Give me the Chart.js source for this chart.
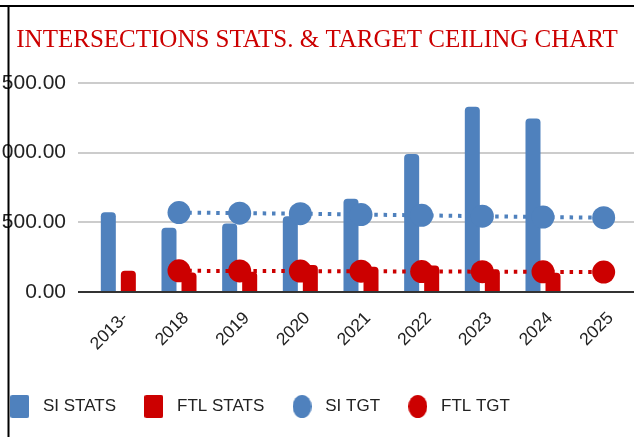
<!DOCTYPE html>
<html lang="en">
<head>
<meta charset="UTF-8">
<title>Intersections Stats & Target Ceiling Chart</title>
<script src="https://cdn.jsdelivr.net/npm/chart.js@4.4.1/dist/chart.umd.min.js"></script>
<style>
    body { margin: 0; background: #fff; }
    #chart { display: block; }
</style>
</head>
<body>
<canvas id="chart" width="634" height="437"></canvas>
<script>
// data
const years = ['2013-', '2018', '2019', '2020', '2021', '2022', '2023', '2024', '2025'];
const siStats = [573, 462, 491, 543, 669, 990, 1329, 1245, null];
const ftlStats = [152, 140, 145, 193, 181, 190, 164, 138, null];
const siTarget = [null, 570, 566, 562, 556, 550, 544, 538, 533];
const ftlTarget = [null, 152, 151, 150, 149, 147, 146, 145, 143];

const BLUE = '#4f81bd';
const RED = '#cc0000';
const SANS = "'Liberation Sans', Arial, sans-serif";

// legend icons (square for bars, ellipse for targets)
function makeIcon(shape, color) {
    const c = document.createElement('canvas');
    c.width = 19;
    c.height = 23;
    const g = c.getContext('2d');
    g.fillStyle = color;
    g.beginPath();
    if (shape === 'rect') {
        g.roundRect(0, 0, 19, 23, 2);
    } else {
        g.ellipse(9.5, 11.5, 9.5, 11.5, 0, 0, Math.PI * 2);
    }
    g.fill();
    return c;
}
const legendIcons = [makeIcon('rect', BLUE), makeIcon('rect', RED), makeIcon('circle', BLUE), makeIcon('circle', RED)];

// black frame lines at the top and left edge
const frame = {
    id: 'frame',
    afterDraw(chart) {
        const ctx = chart.ctx;
        ctx.save();
        ctx.fillStyle = '#000';
        ctx.fillRect(0, 5, chart.width, 2);
        ctx.fillRect(7.5, 5, 2, chart.height);
        ctx.restore();
    }
};

new Chart(document.getElementById('chart'), {
    type: 'bar',
    data: {
        labels: years,
        datasets: [
            { label: 'SI STATS', data: siStats, backgroundColor: BLUE, borderRadius: 4, order: 1 },
            { label: 'FTL STATS', data: ftlStats, backgroundColor: RED, borderRadius: 4, order: 1 },
            {
                type: 'line', label: 'SI TGT', data: siTarget, order: 0,
                borderColor: BLUE, backgroundColor: BLUE, borderWidth: 4, borderDash: [3.5, 5.8],
                pointRadius: 11.5, pointBorderWidth: 0, pointBackgroundColor: BLUE, fill: false
            },
            {
                type: 'line', label: 'FTL TGT', data: ftlTarget, order: 0,
                borderColor: RED, backgroundColor: RED, borderWidth: 4, borderDash: [3.5, 5.8],
                pointRadius: 11.5, pointBorderWidth: 0, pointBackgroundColor: RED, fill: false
            }
        ]
    },
    options: {
        responsive: false,
        animation: false,
        categoryPercentage: 0.66,
        barPercentage: 0.75,
        layout: { autoPadding: false, padding: { left: -18, right: -18, top: 0, bottom: 12 } },
        plugins: {
            title: {
                display: true,
                text: 'INTERSECTIONS STATS. & TARGET CEILING CHART',
                color: RED,
                font: { family: "'Liberation Serif', 'Times New Roman', serif", size: 25, weight: 'normal' },
                padding: { top: 25.5, bottom: 27.5 }
            },
            legend: {
                position: 'bottom',
                align: 'start',
                labels: {
                    usePointStyle: true,
                    pointStyleWidth: 29.5,
                    boxHeight: 17,
                    padding: 23,
                    color: '#222',
                    font: { family: SANS, size: 17 },
                    sort: (a, b) => a.datasetIndex - b.datasetIndex,
                    generateLabels(chart) {
                        const items = Chart.defaults.plugins.legend.labels.generateLabels(chart);
                        items.forEach(it => { it.pointStyle = legendIcons[it.datasetIndex]; });
                        return items;
                    }
                }
            },
            tooltip: { enabled: false }
        },
        scales: {
            x: {
                grid: { display: false, drawTicks: false },
                border: { display: false },
                ticks: {
                    color: '#222',
                    font: { family: SANS, size: 17.5 },
                    minRotation: 45,
                    maxRotation: 45,
                    autoSkip: false,
                    padding: 16,
                    labelOffset: 7
                },
                afterFit(scale) {
                    scale.height = 83;
                    scale.paddingLeft = 0;
                    scale.paddingRight = 0;
                }
            },
            y: {
                min: 0,
                max: 1500,
                ticks: {
                    stepSize: 500,
                    color: '#222',
                    padding: 12,
                    font: { family: SANS, size: 21 },
                    callback: v => v.toLocaleString('en-US', { minimumFractionDigits: 2, maximumFractionDigits: 2 })
                },
                grid: {
                    drawTicks: true,
                    tickLength: 10,
                    lineWidth: 2,
                    color: ctx => (ctx.tick && ctx.tick.value === 0 ? '#333' : '#cccccc')
                },
                border: { display: false },
                afterFit(scale) { scale.width = 106; }
            },
            yR: {
                type: 'linear',
                position: 'right',
                display: true,
                grid: { display: false },
                border: { display: false },
                ticks: { display: false },
                afterFit(scale) { scale.width = 18; }
            }
        }
    },
    plugins: [frame]
});
</script>
</body>
</html>
